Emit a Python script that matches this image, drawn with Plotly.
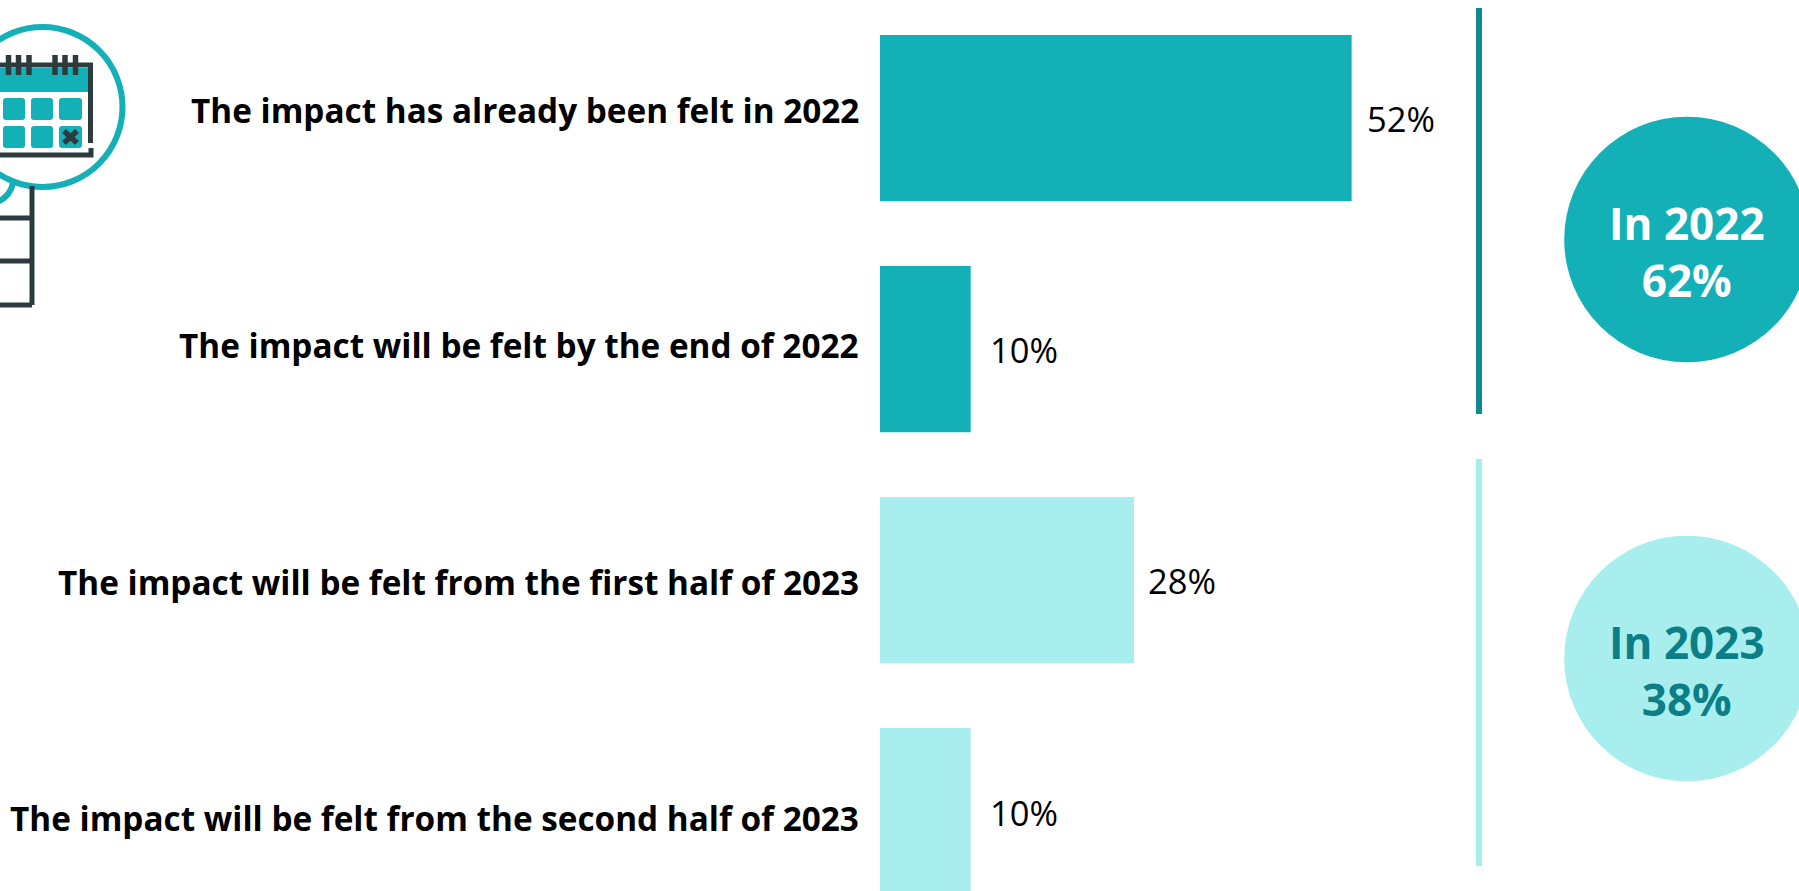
import plotly.graph_objects as go

# Survey answers
categories = [
    "The impact has already been felt in 2022",
    "The impact will be felt by the end of 2022",
    "The impact will be felt from the first half of 2023",
    "The impact will be felt from the second half of 2023",
]
values = [52, 10, 28, 10]
value_labels = ["52%", "10%", "28%", "10%"]
summary_years = ["In 2022", "In 2023"]
summary_totals = ["62%", "38%"]

# Palette
TEAL = "#14b0b8"
PALE = "#a8eeee"
DEEP = "#0f8a90"
DEEP_TEXT = "#0c7f86"
INK = "#2d3b3f"
bar_colors = [TEAL, TEAL, PALE, PALE]

W, H = 1799, 891
LABEL_FONT = "Open Sans"


def px(x):
    return x / W


def py(y):
    return 1 - y / H


def paper(**kw):
    return dict(xref="paper", yref="paper", **kw)


def rect(x0, y0, x1, y1, color):
    return paper(type="rect", x0=px(x0), y0=py(y0), x1=px(x1), y1=py(y1),
                 fillcolor=color, line_width=0, layer="above")


def circle(x, y, r, fill, line=None, width=0):
    return paper(type="circle", x0=px(x - r), x1=px(x + r), y0=py(y - r), y1=py(y + r),
                 fillcolor=fill, line=dict(color=line or fill, width=width), layer="below")


def rounded(x0, y0, x1, y1, r, color):
    X = lambda v: px(v)
    Y = lambda v: py(v)
    path = (
        f"M {X(x0 + r)} {Y(y0)} L {X(x1 - r)} {Y(y0)} Q {X(x1)} {Y(y0)} {X(x1)} {Y(y0 + r)} "
        f"L {X(x1)} {Y(y1 - r)} Q {X(x1)} {Y(y1)} {X(x1 - r)} {Y(y1)} "
        f"L {X(x0 + r)} {Y(y1)} Q {X(x0)} {Y(y1)} {X(x0)} {Y(y1 - r)} "
        f"L {X(x0)} {Y(y0 + r)} Q {X(x0)} {Y(y0)} {X(x0 + r)} {Y(y0)} Z"
    )
    return paper(type="path", path=path, fillcolor=color, line_width=0, layer="above")


def stroke(points, color, width):
    path = "M " + " L ".join(f"{px(x)} {py(y)}" for x, y in points)
    return paper(type="path", path=path, line=dict(color=color, width=width), layer="above")


shapes = []

# Group rules beside the bars
shapes.append(rect(1476, 8, 1482, 414, DEEP))
shapes.append(rect(1476, 459, 1482, 866, PALE))

# Summary discs
shapes.append(circle(1687, 239.5, 122.8, TEAL))
shapes.append(circle(1687, 658.5, 122.8, PALE))

# Calendar under a magnifier
shapes.append(stroke([(0, 218), (32, 218)], INK, 5))
shapes.append(stroke([(0, 261), (32, 261)], INK, 5))
shapes.append(stroke([(0, 305), (32, 305)], INK, 5))
shapes.append(stroke([(32, 186), (32, 305)], INK, 5))
shapes.append(paper(type="path",
                    path=f"M {px(13)} {py(183)} Q {px(10)} {py(197)} {px(-3)} {py(202)}",
                    line=dict(color=TEAL, width=6), layer="above"))
shapes.append(circle(42.5, 107, 80, "white", TEAL, 6))
shapes.append(rect(-5, 68, 88, 92, TEAL))
shapes.append(stroke([(-5, 65), (90.5, 65), (90.5, 143)], INK, 5))
shapes.append(stroke([(-5, 155), (91, 155), (91, 148)], INK, 5))
for ring_x in [8.5, 18.5, 29, 55, 65, 75.5]:
    shapes.append(stroke([(ring_x, 55), (ring_x, 75)], INK, 5.5))
for top, bottom in [(98, 120), (126, 148)]:
    for left, right in [(-25, -3), (3, 25), (31, 53), (59, 82)]:
        shapes.append(rounded(left, top, right, bottom, 3, TEAL))
shapes.append(stroke([(64, 131), (77, 143)], INK, 5.5))
shapes.append(stroke([(77, 131), (64, 143)], INK, 5.5))

annotations = []

# Question text to the left of each bar
label_shift = [8, 4, -1.5, -7]
for i, (cat, dy) in enumerate(zip(categories, label_shift)):
    annotations.append(dict(x=0, y=i, xref="x", yref="y", text=f"<b>{cat}</b>",
                            xanchor="right", yanchor="middle", xshift=-19, yshift=dy,
                            showarrow=False,
                            font=dict(family=LABEL_FONT, size=33.3, color="#000000")))

# Value text to the right of each bar
value_xshift = [13, 17, 12, 17]
value_yshift = [0, 0, 0, -1]
for i, (v, lab) in enumerate(zip(values, value_labels)):
    annotations.append(dict(x=v, y=i, xref="x", yref="y", text=lab,
                            xanchor="left", yanchor="middle",
                            xshift=value_xshift[i], yshift=value_yshift[i],
                            showarrow=False,
                            font=dict(family=LABEL_FONT, size=34.5, color="#000000")))

# Totals inside the discs
for year, total, cy, color in zip(summary_years, summary_totals, [239.5, 658.5], ["#ffffff", DEEP_TEXT]):
    annotations.append(paper(x=px(1687), y=py(cy), text=f"<b>{year}<br>{total}</b>",
                             xanchor="center", yanchor="middle", yshift=-12, showarrow=False,
                             font=dict(family=LABEL_FONT, size=44, color=color)))

fig = go.Figure(go.Bar(
    y=list(range(len(categories))),
    x=values,
    orientation="h",
    width=0.72,
    marker=dict(color=bar_colors, line_width=0),
    hovertext=categories,
    hoverinfo="text+x",
))

PX_PER_POINT = 9.07
BAR_ZERO = 880
BAR_PITCH = 231
FIRST_BAR = 118.2

fig.update_layout(
    width=W, height=H,
    margin=dict(l=0, r=0, t=0, b=0),
    paper_bgcolor="white", plot_bgcolor="white",
    showlegend=False,
    xaxis=dict(range=[-BAR_ZERO / PX_PER_POINT, (W - BAR_ZERO) / PX_PER_POINT], visible=False),
    yaxis=dict(range=[(H - FIRST_BAR) / BAR_PITCH, -FIRST_BAR / BAR_PITCH], visible=False),
    shapes=shapes,
    annotations=annotations,
)

fig.write_html("out.html", config={"displayModeBar": False})
